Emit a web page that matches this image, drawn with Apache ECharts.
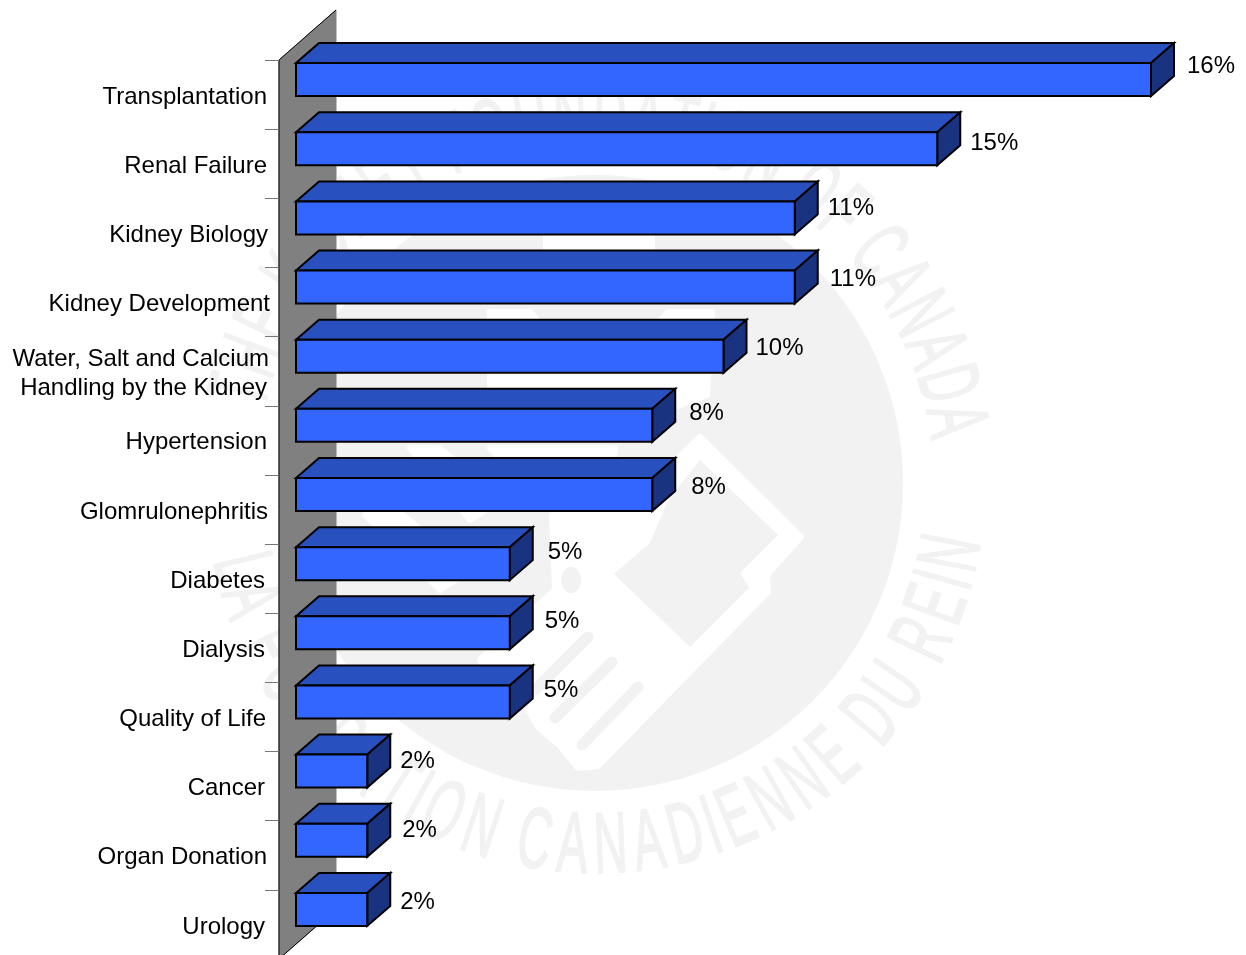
<!DOCTYPE html>
<html>
<head>
<meta charset="utf-8">
<title>Research areas</title>
<script src="https://cdn.jsdelivr.net/npm/echarts@6/dist/echarts.min.js"></script>
<style>
	html, body { margin: 0; padding: 0; width: 1246px; height: 955px; background: #ffffff; overflow: hidden; }
	/* the chart runs a little past the bottom of the window, as in the original */
	#main { width: 1246px; height: 962px; }
</style>
</head>
<body>
<div id="main"></div>
<script>
const categories = [
	'Transplantation', 'Renal Failure', 'Kidney Biology', 'Kidney Development',
	'Water, Salt and Calcium\nHandling by the Kidney', 'Hypertension', 'Glomrulonephritis',
	'Diabetes', 'Dialysis', 'Quality of Life', 'Cancer', 'Organ Donation', 'Urology'
];
// bar lengths as drawn, the printed percentages are separate in the original
const barValues = [12, 9, 7, 7, 6, 5, 5, 3, 3, 3, 1, 1, 1];
const percentLabels = ['16%', '15%', '11%', '11%', '10%', '8%', '8%', '5%', '5%', '5%', '2%', '2%', '2%'];

// the labels were moved by hand in the original
const labelDx = [13, 10, 10, 12, 9, 14, 16, 15, 12, 11, 10, 12, 10];
const labelDy = [3, 11, 7, 9, 9, 5, 9, 5, 5, 5, 7, 7, 9];
const axisPad = [[3], [3], [2], [0], [1, 3], [3], [2], [5], [5], [4], [5], [3], [5]];

const FONT = '"Liberation Sans", Arial, sans-serif';
const WM = '#f2f2f2';

// 3d offsets in pixels
const depthX = 23, depthY = 20;
const wallX = 57, wallY = 50;
const insetX = 17, liftY = 31.5, barH = 33;

const myChart = echarts.init(document.getElementById('main'));

function renderWall(params) {
	const g = params.coordSys;
	const x = g.x, y = g.y, b = g.y + g.height;
	return {
		type: 'group',
		children: [
			{
				type: 'polygon',
				shape: { points: [[x, y], [x + wallX, y - wallY], [x + wallX, b - wallY], [x, b]] },
				style: { fill: '#808080', stroke: '#808080', lineWidth: 1 }
			},
			{
				type: 'polyline',
				shape: { points: [[x + wallX, y - wallY], [x, y], [x, b], [x + wallX, b - wallY]] },
				style: { fill: 'none', stroke: '#000000', lineWidth: 1 }
			}
		]
	};
}

function renderBar(params, api) {
	const i = api.value(1);
	const start = api.coord([0, i]);
	const end = api.coord([api.value(0), i]);
	const x0 = start[0] + insetX;
	const x1 = end[0] + insetX;
	const y0 = start[1] - liftY;
	const y1 = y0 + barH;
	const line = { stroke: '#000000', lineWidth: 2, lineJoin: 'miter' };
	return {
		type: 'group',
		children: [
			{
				type: 'polygon',
				shape: { points: [[x0, y0], [x0 + depthX, y0 - depthY], [x1 + depthX, y0 - depthY], [x1, y0]] },
				style: Object.assign({ fill: '#2850BE' }, line)
			},
			{
				type: 'polygon',
				shape: { points: [[x1, y0], [x1 + depthX, y0 - depthY], [x1 + depthX, y1 - depthY], [x1, y1]] },
				style: Object.assign({ fill: '#1A3380' }, line)
			},
			{
				type: 'rect',
				shape: { x: x0, y: y0, width: x1 - x0, height: barH },
				style: Object.assign({ fill: '#3366FF' }, line)
			},
			{
				type: 'text',
				x: x1 + depthX + labelDx[i],
				y: y0 + labelDy[i],
				style: {
					text: percentLabels[i],
					fill: '#000000',
					font: '24px ' + FONT,
					textAlign: 'left',
					textVerticalAlign: 'middle'
				}
			}
		]
	};
}

// watermark: letters set one by one round the ring
const measure = document.createElement('canvas').getContext('2d');
measure.font = '86px ' + FONT;

function ringText(str, from, to, r, onTop) {
	const cx = 595, cy = 483;
	const widths = str.split('').map(function (c) { return measure.measureText(c).width; });
	const total = widths.reduce(function (a, b) { return a + b; }, 0);
	const out = [];
	let run = 0;
	str.split('').forEach(function (c, k) {
		const t = (run + widths[k] / 2) / total;
		run += widths[k];
		if (c === ' ') return;
		const deg = from + (to - from) * t;
		const rad = deg * Math.PI / 180;
		out.push({
			type: 'text',
			x: cx + r * Math.cos(rad),
			y: cy + r * Math.sin(rad),
			rotation: onTop ? -(rad + Math.PI / 2) : -(rad - Math.PI / 2),
			scaleX: 0.54,
			style: {
				text: c, fill: WM, stroke: WM, lineWidth: 2,
				font: '86px ' + FONT, textAlign: 'center', textVerticalAlign: 'middle'
			}
		});
	});
	return out;
}

function whiteShape(points) {
	return { type: 'polygon', shape: { points: points }, style: { fill: '#ffffff', stroke: '#ffffff', lineWidth: 6, lineJoin: 'round' } };
}

function slot(x1, y1, x2, y2) {
	return { type: 'line', shape: { x1: x1, y1: y1, x2: x2, y2: y2 }, style: { stroke: WM, lineWidth: 11, lineCap: 'round' } };
}

const watermark = [
	{ type: 'circle', shape: { cx: 595, cy: 483, r: 308 }, style: { fill: WM } },
	// top of the logo, mostly behind the bars
	{ type: 'rect', shape: { x: 543, y: 210, width: 112, height: 90, r: [0, 0, 40, 40] }, style: { fill: '#ffffff' } },
	whiteShape([[490, 312], [530, 312], [560, 345], [640, 345], [668, 312], [712, 312], [707, 395], [640, 420], [560, 420], [490, 395]]),
	whiteShape([[410, 448], [440, 448], [500, 500], [470, 520]]),
	whiteShape([[490, 448], [615, 448], [610, 500], [540, 500]]),
	whiteShape([[365, 515], [403, 515], [470, 570], [440, 590]]),
	// hand and frame
	whiteShape([[700, 437], [801, 537], [767, 575], [768, 592], [598, 766], [578, 768], [560, 746], [538, 727], [522, 698], [492, 682], [480, 660], [530, 612], [555, 590], [552, 515], [640, 495]]),
	{
		type: 'polygon',
		shape: { points: [[700, 460], [778, 535], [740, 573], [749, 588], [690, 647], [614, 574], [650, 543], [668, 500]] },
		style: { fill: WM }
	},
	{ type: 'ellipse', shape: { cx: 571, cy: 580, rx: 10, ry: 13 }, style: { fill: WM } },
	slot(588, 637, 535, 690),
	slot(612, 662, 555, 718),
	slot(638, 687, 582, 745)
]
	.concat(ringText('THE KIDNEY FOUNDATION OF CANADA', 192, 353, 363, true))
	.concat(ringText('LA FONDATION CANADIENNE DU REIN', 169, 8, 366, false));

const rich = {};
for (let p = 0; p <= 5; p++) {
	rich['s' + p] = { fontFamily: FONT, fontSize: 24, lineHeight: 29, color: '#000000', padding: [0, p, 0, 0] };
}

var option = {
	animation: false,
	backgroundColor: '#ffffff',
	graphic: { elements: [{ type: 'group', silent: true, z: -10, children: watermark }] },
	grid: { left: 279, top: 60, width: 855, height: 899, containLabel: false },
	xAxis: { type: 'value', min: 0, max: 12, show: false },
	yAxis: {
		type: 'category',
		inverse: true,
		data: categories,
		z: 5,
		axisLine: { show: false },
		axisTick: { show: true, length: 14, lineStyle: { color: '#777777', width: 1 } },
		axisLabel: {
			margin: 9,
			color: '#000000',
			fontFamily: FONT,
			fontSize: 24,
			lineHeight: 29,
			align: 'right',
			interval: 0,
			padding: [5, 0, 0, 0],
			formatter: function (value, idx) {
				return value.split('\n').map(function (part, k) {
					return '{s' + axisPad[idx][k] + '|' + part + '}';
				}).join('\n');
			},
			rich: rich
		}
	},
	series: [
		{
			type: 'custom',
			z: 1,
			silent: true,
			renderItem: renderWall,
			data: [[0, 0]],
			encode: { x: 0, y: 1 }
		},
		{
			type: 'custom',
			z: 2,
			silent: true,
			renderItem: renderBar,
			data: barValues.map(function (v, i) { return [v, i]; }),
			encode: { x: 0, y: 1 }
		}
	]
};
myChart.setOption(option);
</script>
</body>
</html>
